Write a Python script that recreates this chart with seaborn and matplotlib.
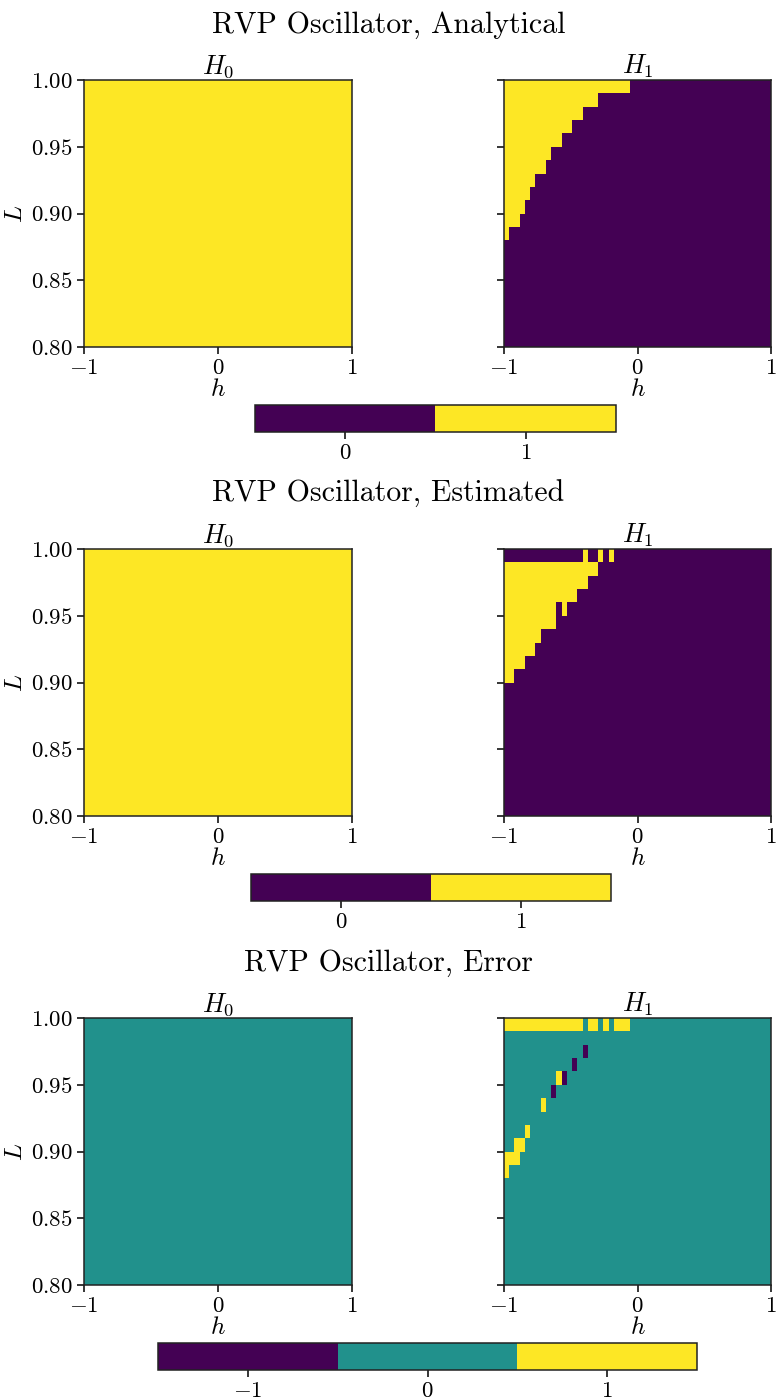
import numpy as np
import pandas as pd
import seaborn as sns
import matplotlib.pyplot as plt
from matplotlib.colors import ListedColormap

# Grid of the parameter sweep: 51 values of h in [-1, 1], 20 bands of L in [0.80, 1.00]
h_values = np.round(np.linspace(-1, 1, 51), 2)
L_bands = np.round(np.linspace(0.995, 0.805, 20), 3)   # top band first

# H1 region (value 1) per L band: number of leading h-cells that are 1
analytical_h1_width = [24, 18, 15, 13, 11, 9, 8, 6, 5, 4, 3, 1, 0, 0, 0, 0, 0, 0, 0, 0]
estimated_h1_width = [0, 18, 16, 14, 10, 10, 7, 6, 4, 2, 0, 0, 0, 0, 0, 0, 0, 0, 0, 0]
# isolated estimated cells equal to 1 outside the leading block: (band, h-index)
estimated_h1_isolated = [(0, 15), (0, 18), (0, 20), (4, 11)]

title_words = ["Analytical", "Estimated", "Error"]
panel_titles = ["$H_0$", "$H_1$"]
x_tick_values = [-1, 0, 1]
y_tick_values = [1.00, 0.95, 0.90, 0.85, 0.80]


def band_matrix(widths, isolated=()):
    m = np.zeros((len(L_bands), len(h_values)), dtype=int)
    for r, w in enumerate(widths):
        m[r, :w] = 1
    for r, c in isolated:
        m[r, c] = 1
    return pd.DataFrame(m, index=L_bands, columns=h_values)


ana_h0 = pd.DataFrame(np.ones((len(L_bands), len(h_values)), dtype=int), index=L_bands, columns=h_values)
ana_h1 = band_matrix(analytical_h1_width)
est_h0 = ana_h0.copy()
est_h1 = band_matrix(estimated_h1_width, estimated_h1_isolated)
err_h0 = ana_h0 - est_h0
err_h1 = ana_h1 - est_h1

PURPLE, TEAL, YELLOW = "#440154", "#21918c", "#fde725"
binary_cmap = ListedColormap([PURPLE, YELLOW])
error_cmap = ListedColormap([PURPLE, TEAL, YELLOW])

rows = [
    (ana_h0, ana_h1, binary_cmap, -0.5, 1.5, [0, 1], ["$0$", "$1$"], (255, 615.7)),
    (est_h0, est_h1, binary_cmap, -0.5, 1.5, [0, 1], ["$0$", "$1$"], (251, 610.7)),
    (err_h0, err_h1, error_cmap, -1.5, 1.5, [-1, 0, 1], ["$-1$", "$0$", "$1$"], (158, 697)),
]

plt.rcParams["mathtext.fontset"] = "cm"
plt.rcParams["font.family"] = ["cmr10", "DejaVu Sans"]
plt.rcParams["axes.unicode_minus"] = False

W, H = 777, 1398
fig = plt.figure(figsize=(W / 100, H / 100), dpi=100)


def px_axes(left, top, right, bottom):
    return fig.add_axes([left / W, 1 - bottom / H, (right - left) / W, (bottom - top) / H])


n_h = len(h_values)
n_L = len(L_bands)
x_pos = [(v + 1) / 2 * n_h for v in x_tick_values]
y_pos = [(1.0 - v) / 0.2 * n_L for v in y_tick_values]

TICK_FS = 16.5
LABEL_FS = 18
for i, (m0, m1, cmap, vmin, vmax, cticks, clabels, (cx0, cx1)) in enumerate(rows):
    top = 80 + 469 * i
    bottom = top + 267.3
    fig.text(0.5, 1 - (top - 47) / H, f"RVP Oscillator, {title_words[i]}",
             ha="center", va="baseline", fontsize=21.5)
    axes = [px_axes(84, top, 351.7, bottom), px_axes(504, top, 771, bottom)]
    for j, (ax, mat) in enumerate(zip(axes, [m0, m1])):
        sns.heatmap(mat, ax=ax, cmap=cmap, vmin=vmin, vmax=vmax, cbar=False,
                    xticklabels=False, yticklabels=False)
        for s in ax.spines.values():
            s.set_visible(True)
            s.set_linewidth(1.1)
            s.set_color("#222222")
        ax.set_xticks(x_pos)
        ax.set_xticklabels([f"${v}$" for v in x_tick_values])
        ax.set_yticks(y_pos)
        if j == 0:
            ax.set_yticklabels([f"${v:.2f}$" for v in y_tick_values], rotation=0)
            ax.set_ylabel("$L$", fontsize=LABEL_FS, labelpad=3)
        else:
            ax.set_yticklabels([])
            ax.set_ylabel("")
        ax.tick_params(length=5, width=1.1, labelsize=TICK_FS, pad=3)
        ax.set_xlabel("$h$", fontsize=LABEL_FS, labelpad=1)
        ax.set_title(panel_titles[j], fontsize=19, pad=1)
    cax = px_axes(cx0, 405 + 469 * i, cx1, 432 + 469 * i)
    cb = fig.colorbar(axes[0].collections[0], cax=cax, orientation="horizontal")
    cb.set_ticks(cticks)
    cb.set_ticklabels(clabels)
    cb.ax.tick_params(length=5, width=1.1, labelsize=TICK_FS, pad=3)
    cb.outline.set_linewidth(1.1)
    cb.outline.set_edgecolor("#222222")

fig.savefig("out.png", dpi=100)
